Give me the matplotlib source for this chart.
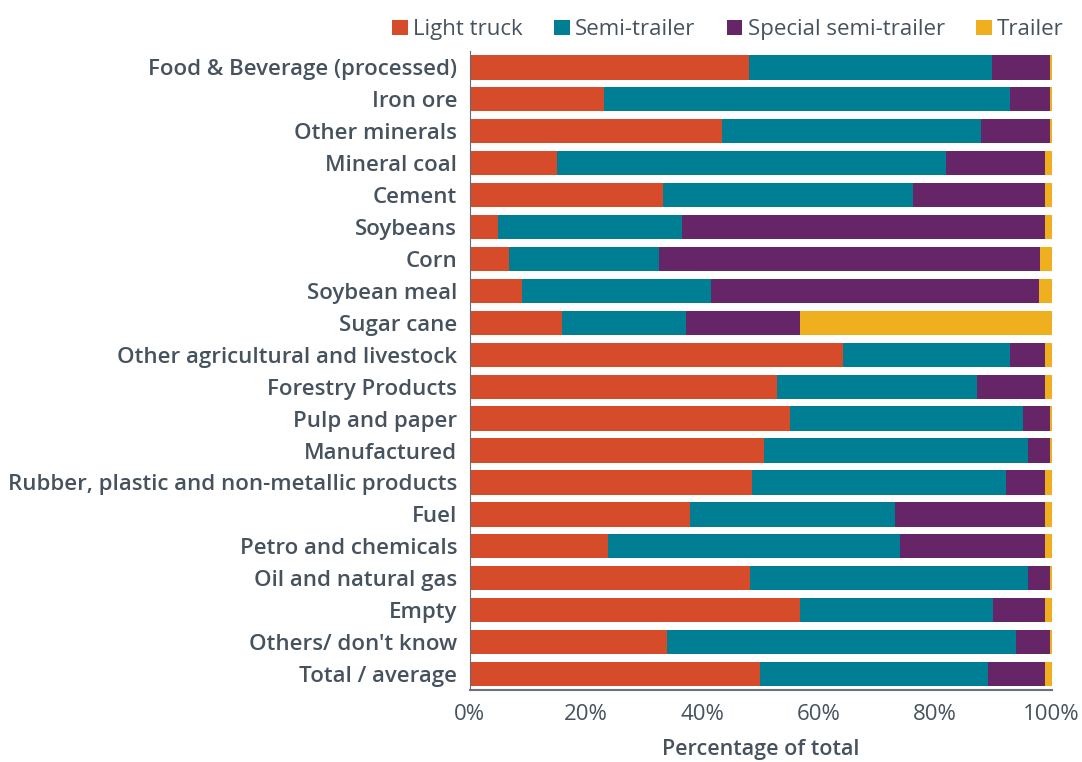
import matplotlib.pyplot as plt
import numpy as np

plt.rcParams['font.family'] = ['Open Sans', 'DejaVu Sans']

categories = ["Food & Beverage (processed)", "Iron ore", "Other minerals", "Mineral coal",
              "Cement", "Soybeans", "Corn", "Soybean meal", "Sugar cane",
              "Other agricultural and livestock", "Forestry Products", "Pulp and paper",
              "Manufactured", "Rubber, plastic and non-metallic products", "Fuel",
              "Petro and chemicals", "Oil and natural gas", "Empty", "Others/ don't know",
              "Total / average"]

light_truck = [48.0, 23.1, 43.4, 15.0, 33.3, 4.9, 6.7, 9.0, 15.9, 64.1,
               52.8, 55.0, 50.5, 48.6, 37.8, 23.8, 48.2, 56.8, 33.9, 49.9]
semi_trailer = [41.7, 69.7, 44.4, 66.8, 42.8, 31.6, 25.9, 32.5, 21.2, 28.7,
                34.3, 40.0, 45.4, 43.5, 35.2, 50.1, 47.7, 33.1, 59.9, 39.1]
special_semi = [10.0, 6.9, 11.9, 17.0, 22.7, 62.3, 65.4, 56.3, 19.7, 6.0,
                11.7, 4.7, 3.8, 6.7, 25.8, 24.9, 3.8, 8.9, 5.9, 9.8]
trailer = [0.3, 0.3, 0.3, 1.2, 1.2, 1.2, 2.0, 2.2, 43.2, 1.2,
           1.2, 0.3, 0.3, 1.2, 1.2, 1.2, 0.3, 1.2, 0.3, 1.2]

series = [("Light truck", light_truck, "#D64B2A"),
          ("Semi-trailer", semi_trailer, "#007E94"),
          ("Special semi-trailer", special_semi, "#652566"),
          ("Trailer", trailer, "#F0AF1F")]

text_color = "#46525E"
fs = 16

fig = plt.figure(figsize=(10.82, 7.62), dpi=100)
ax = fig.add_axes([0.434, 0.0945, 0.538, 0.838])

y = np.arange(len(categories))
left = np.zeros(len(categories))
for name, vals, color in series:
    vals = np.array(vals)
    ax.barh(y, vals, left=left, height=0.76, color=color, label=name)
    left += vals

ax.set_ylim(len(categories) - 0.5, -0.5)
ax.set_xlim(0, 100)
ax.set_yticks(y)
ax.set_yticklabels(categories, fontsize=16, color=text_color, fontweight='semibold')
ax.set_xticks([0, 20, 40, 60, 80, 100])
ax.set_xticklabels(["0%", "20%", "40%", "60%", "80%", "100%"], fontsize=fs, color=text_color)
ax.tick_params(axis='x', length=0, pad=10)
ax.tick_params(axis='y', length=0, pad=9)

for s in ["top", "right"]:
    ax.spines[s].set_visible(False)
ax.spines["left"].set_color("#6b6b6b")
ax.spines["bottom"].set_color("#6b7178")
ax.spines["bottom"].set_linewidth(1.5)

ax.set_xlabel("Percentage of total", fontsize=15.5, color=text_color, fontweight='semibold', labelpad=10)

ax.legend(loc="lower right", bbox_to_anchor=(1.04, 1.0), ncol=4, frameon=False,
          fontsize=fs, handlelength=0.7, handleheight=0.7, handletextpad=0.25,
          columnspacing=1.4, borderaxespad=0.1, labelcolor=text_color)

fig.savefig("out.png", dpi=100)
